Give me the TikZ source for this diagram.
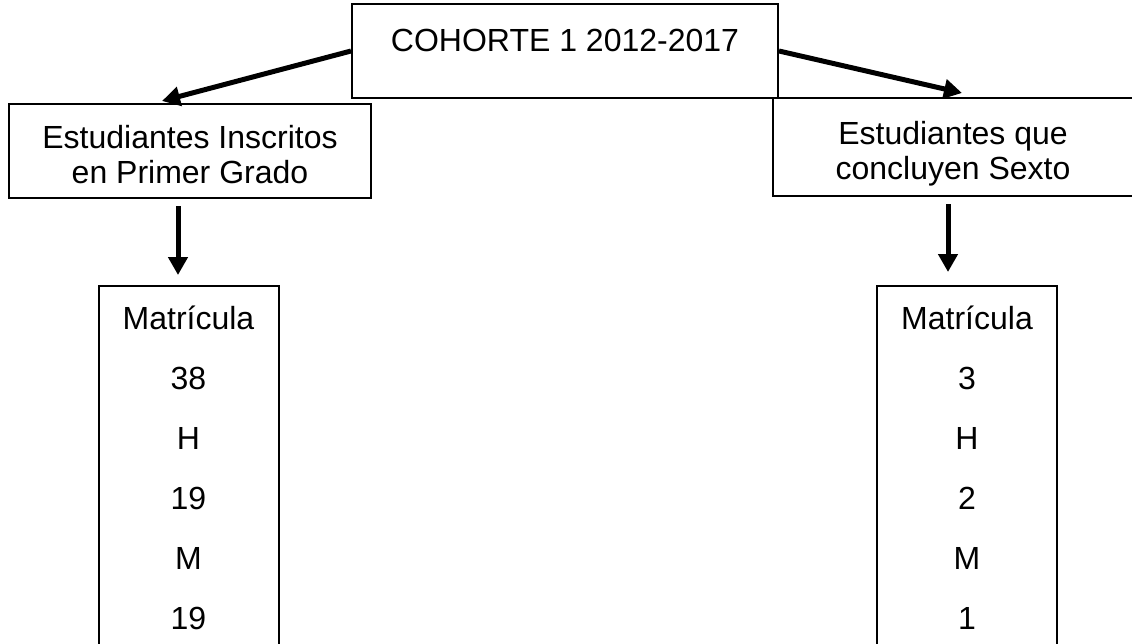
\documentclass[tikz,border=0pt]{standalone}
\usepackage{fontspec}
\setmainfont{Liberation Sans}
\usetikzlibrary{arrows.meta,calc}

\tikzset{every picture/.style={line width=2pt}}
\tikzset{
  caja/.style={draw, line width=2pt, align=center, inner sep=0pt, font=\fontsize{32}{35}\selectfont},
  columna/.style={caja, anchor=north, minimum width=180pt, inner ysep=19pt, text height=324pt, text depth=40pt, font=\fontsize{32}{60}\selectfont},
  flecha/.style={line width=5pt, -{Triangle[length=18pt,width=19pt]}}
}

\begin{document}
\begin{tikzpicture}[x=1pt,y=1pt,yscale=-1,xscale=1]
\clip (0,0) rectangle (1132,643); %picture is 1132 wide and 643 high

%Shape: Rectangle [cohorte]
\node[caja, minimum width=426pt, minimum height=94pt, text height=12pt, text depth=12pt] (cohorte) at (565,51) {COHORTE 1 2012-2017};
%Shape: Rectangle [inscritos]
\node[caja, minimum width=362pt, minimum height=94pt, text height=65pt, text depth=0pt] (inscritos) at (190,151) {Estudiantes Inscritos\\en Primer Grado};
%Shape: Rectangle [concluyen]
\node[caja, minimum width=360pt, minimum height=98pt, text height=65pt, text depth=0pt] (concluyen) at (953,147) {Estudiantes que\\concluyen Sexto};

%Shape: Rectangle [matricula primer grado]
\node[columna] (matr1) at (188.5,285) {Matrícula\\38\\H\\19\\M\\19};
%Shape: Rectangle [matricula sexto]
\node[columna] (matr2) at (967,285) {Matrícula\\3\\H\\2\\M\\1};

%Straight Lines
\draw[flecha] (cohorte.west) -- ($(inscritos.north)+(-28,-2)$);
\draw[flecha] (cohorte.east) -- ($(concluyen.north)+(9,-4)$);
%Straight Lines
\draw[flecha] ($(inscritos.south)+(-12,7)$) -- ($(matr1.north)+(-10.5,-10)$);
\draw[flecha] ($(concluyen.south)+(-5,7)$) -- ($(matr2.north)+(-19,-13)$);

\end{tikzpicture}
\end{document}
